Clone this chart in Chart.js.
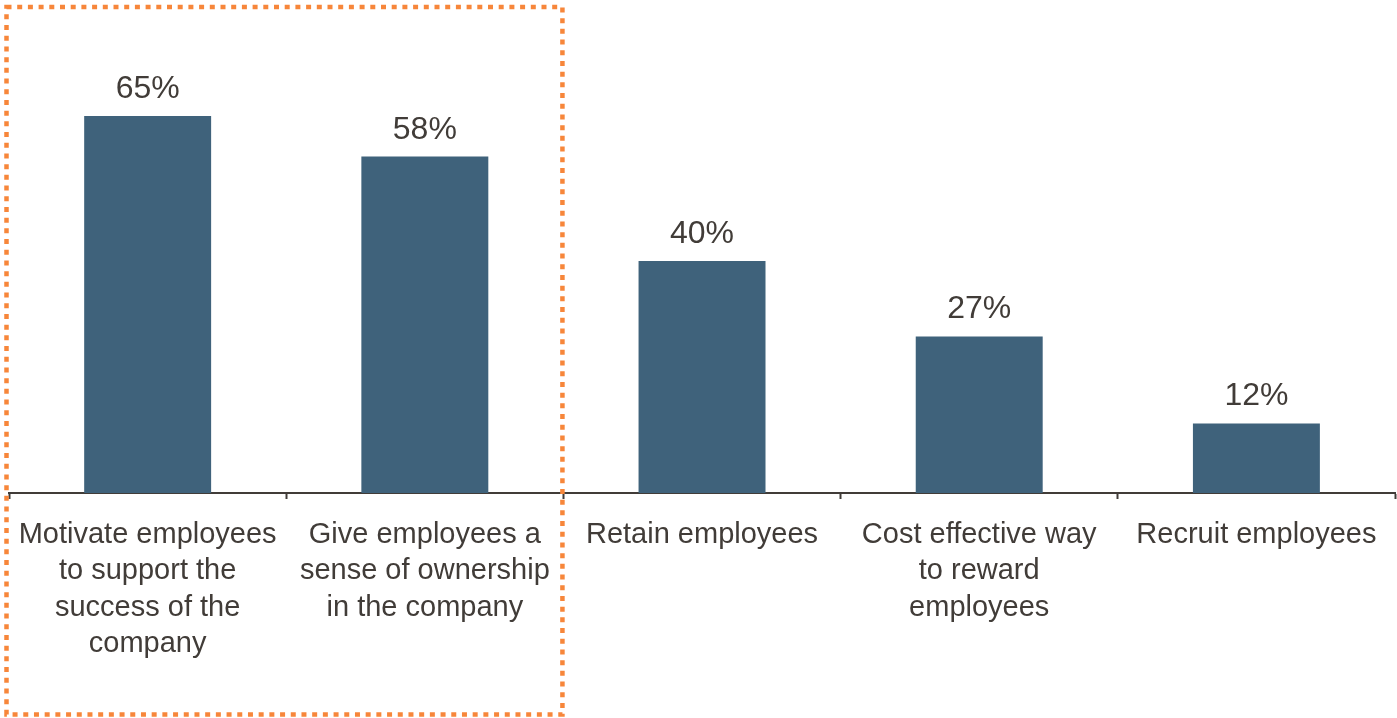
<!DOCTYPE html>
<html>
<head>
<meta charset="utf-8">
<script src="https://cdn.jsdelivr.net/npm/chart.js@4/dist/chart.umd.min.js"></script>
<style>
  html, body { margin: 0; padding: 0; background: #fff; }
  #wrap { width: 1397px; height: 718px; position: relative; }
</style>
</head>
<body>
<div id="wrap"><canvas id="chart"></canvas></div>
<script>
// categories (multi-line labels) and their shares
const categories = [
    ['Motivate employees', 'to support the', 'success of the', 'company'],
    ['Give employees a', 'sense of ownership', 'in the company'],
    ['Retain employees'],
    ['Cost effective way', 'to reward', 'employees'],
    ['Recruit employees']
];
const shares = [65, 58, 40, 27, 12];

const textColor = '#413c38';
const barColor = '#3f627b';
const boxColor = '#f7863a';

// value labels above each bar
const valueLabels = {
    id: 'valueLabels',
    afterDatasetsDraw(chart) {
        const ctx = chart.ctx;
        const meta = chart.getDatasetMeta(0);
        ctx.save();
        ctx.font = '32px "Liberation Sans", Arial, sans-serif';
        ctx.fillStyle = textColor;
        ctx.textAlign = 'center';
        ctx.textBaseline = 'alphabetic';
        meta.data.forEach((bar, i) => {
            ctx.fillText(shares[i] + '%', bar.x, bar.y - 18);
        });
        ctx.restore();
    }
};

// dotted box round the first two categories
const highlightBox = {
    id: 'highlightBox',
    afterDraw(chart) {
        const ctx = chart.ctx;
        const x = chart.scales.x;
        const left = 6.5;
        const right = (x.getPixelForValue(1) + x.getPixelForValue(2)) / 2 - 1;
        const top = 7;
        const bottom = chart.height - 3.5;
        ctx.save();
        ctx.strokeStyle = boxColor;
        ctx.lineWidth = 4.5;
        ctx.setLineDash([5, 5.7]);
        ctx.beginPath();
        ctx.moveTo(left, top);
        ctx.lineTo(right, top);
        ctx.lineTo(right, bottom);
        ctx.lineTo(left, bottom);
        ctx.closePath();
        ctx.stroke();
        ctx.restore();
    }
};

new Chart(document.getElementById('chart'), {
    type: 'bar',
    data: {
        labels: categories,
        datasets: [{
            data: shares,
            backgroundColor: barColor,
            barPercentage: 0.458,
            categoryPercentage: 1
        }]
    },
    options: {
        responsive: true,
        maintainAspectRatio: false,
        animation: false,
        layout: { padding: { left: 7, right: 2, top: 0, bottom: 0 } },
        plugins: {
            legend: { display: false },
            tooltip: { enabled: false }
        },
        scales: {
            y: { display: false, min: 0, max: 85 },
            x: {
                afterFit(scale) { scale.height = 225; },
                border: { display: true, color: textColor, width: 2 },
                grid: {
                    offset: true,
                    drawOnChartArea: false,
                    drawTicks: true,
                    tickLength: 6,
                    tickWidth: 2,
                    tickColor: textColor
                },
                ticks: {
                    color: textColor,
                    padding: 18,
                    maxRotation: 0,
                    autoSkip: false,
                    font: { family: '"Liberation Sans", Arial, sans-serif', size: 29, lineHeight: 1.25 }
                }
            }
        }
    },
    plugins: [valueLabels, highlightBox]
});
</script>
</body>
</html>
